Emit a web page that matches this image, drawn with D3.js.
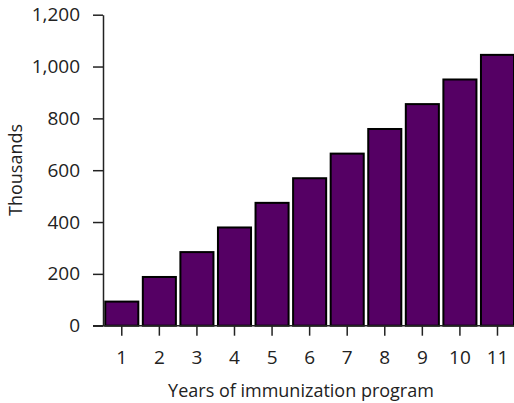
<!DOCTYPE html>
<html>
<head>
<meta charset="utf-8">
<script src="https://cdn.jsdelivr.net/npm/d3@7"></script>
<style>
  body { margin: 0; background: #fff; }
  text { font-family: "Open Sans", sans-serif; fill: #222; }
</style>
</head>
<body>
<div id="chart"></div>
<script>
// data
const years = ["1", "2", "3", "4", "5", "6", "7", "8", "9", "10", "11"];
const thousands = [93, 188, 284, 379, 474, 569, 664, 759, 855, 950, 1045];
const yTicks = [0, 200, 400, 600, 800, 1000, 1200];

const width = 514, height = 403;
const x0 = 103, yBottom = 325.7, yTop = 14.7;

const svg = d3.select("#chart").append("svg")
  .attr("width", width)
  .attr("height", height);

const step = 37.57;
const x = d3.scaleBand()
  .domain(years)
  .range([x0, x0 + step * years.length])
  .paddingInner(0.12)
  .paddingOuter(0.06);

const y = d3.scaleLinear()
  .domain([0, 1200])
  .range([yBottom, yTop]);

// bars
svg.selectAll(".bar")
  .data(years)
  .enter().append("rect")
  .attr("class", "bar")
  .attr("x", d => x(d))
  .attr("y", (d, i) => y(thousands[i]))
  .attr("width", x.bandwidth())
  .attr("height", (d, i) => y(0) - y(thousands[i]))
  .attr("fill", "#550064")
  .attr("stroke", "#000")
  .attr("stroke-width", 2);

// y axis
const yAxis = svg.append("g")
  .attr("transform", `translate(${x0},0)`)
  .call(d3.axisLeft(y).tickValues(yTicks).tickFormat(d3.format(",")).tickSize(10).tickSizeOuter(0).tickPadding(13));

// x axis
const xAxis = svg.append("g")
  .attr("transform", `translate(0,${yBottom})`)
  .call(d3.axisBottom(x).tickSize(10).tickSizeOuter(0).tickPadding(15));
xAxis.select(".domain").remove();
xAxis.append("line")
  .attr("x1", x0 - 10).attr("x2", width)
  .attr("stroke", "#222").attr("stroke-width", 1.5);

svg.selectAll(".tick line").attr("stroke", "#222").attr("stroke-width", 1.5);
yAxis.select(".domain").attr("stroke", "#222").attr("stroke-width", 1.5);
svg.selectAll(".tick text").style("font-size", "19px").attr("fill", "#222");

// titles
svg.append("text")
  .attr("x", 301)
  .attr("y", 397)
  .attr("text-anchor", "middle")
  .style("font-size", "18px")
  .text("Years of immunization program");

svg.append("text")
  .attr("transform", "translate(22,170) rotate(-90)")
  .attr("text-anchor", "middle")
  .style("font-size", "18px")
  .text("Thousands");
</script>
</body>
</html>
